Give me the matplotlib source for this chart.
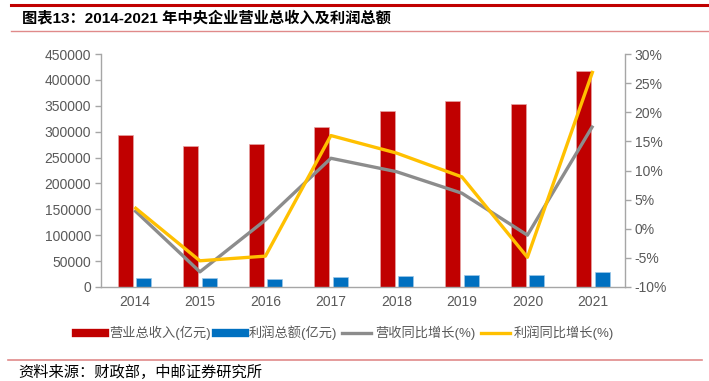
import numpy as np
import matplotlib
matplotlib.use('Agg')
from matplotlib import pyplot as plt
from matplotlib.lines import Line2D

plt.rcParams['font.family'] = ['Liberation Sans', 'Noto Sans CJK SC']

years = ['2014', '2015', '2016', '2017', '2018', '2019', '2020', '2021']
revenue = [293500, 272300, 276800, 308400, 339300, 359200, 354000, 417700]
profit = [18000, 16800, 16000, 18700, 21000, 23200, 22600, 29500]
revenue_yoy = [3.2, -7.4, 1.5, 12.1, 9.8, 6.1, -1.1, 17.7]
profit_yoy = [3.7, -5.5, -4.7, 16.0, 13.0, 8.9, -4.9, 27.1]

left_ticks = list(range(0, 450001, 50000))
right_ticks = list(range(-10, 31, 5))

tick_color = '#595959'
spine_color = '#A6A6A6'

fig = plt.figure(figsize=(7.09, 3.81), dpi=100)
ax = fig.add_axes([101/709, 1 - 287/381, (625 - 101)/709, (287 - 54)/381])
ax2 = ax.twinx()

x = np.arange(len(years))
w = 0.23
ax.bar(x - 0.14, revenue, w, color='#C00000', edgecolor='#E6A3A3', linewidth=0.5)
ax.bar(x + 0.145, profit, w, color='#0070C0', edgecolor='#9CC8E8', linewidth=0.5)

ax2.plot(x, revenue_yoy, color='#8C8C8C', linewidth=2.4, solid_capstyle='butt')
ax2.plot(x, profit_yoy, color='#FFC000', linewidth=2.4, solid_capstyle='butt')

ax.set_xlim(-0.51, 7.49)
ax.set_ylim(0, 450000)
ax.set_yticks(left_ticks)
ax.set_yticklabels([str(v) for v in left_ticks])
ax2.set_ylim(-10, 30)
ax2.set_yticks(right_ticks)
ax2.set_yticklabels([f'{v}%' for v in right_ticks])
ax.set_xticks(x)
ax.set_xticklabels(years)

for a in (ax, ax2):
    a.spines['top'].set_visible(False)
    for s in a.spines.values():
        s.set_color(spine_color)
        s.set_linewidth(1.0)
    a.tick_params(colors=tick_color, labelsize=10)
    a.tick_params(axis='y', color=spine_color, length=4, width=1)
ax.spines['right'].set_visible(False)
ax2.spines['left'].set_visible(False)
ax2.spines['bottom'].set_visible(False)
ax.tick_params(axis='x', length=0, pad=6)
ax.tick_params(axis='y', pad=3)
ax2.tick_params(axis='y', pad=3)

ax2.set_zorder(ax.get_zorder() + 1)
ax2.patch.set_visible(False)

handles = [Line2D([], [], color='#C00000', linewidth=6),
           Line2D([], [], color='#0070C0', linewidth=6),
           Line2D([], [], color='#8C8C8C', linewidth=2.4),
           Line2D([], [], color='#FFC000', linewidth=2.4)]
labels = ['营业总收入(亿元)', '利润总额(亿元)', '营收同比增长(%)', '利润同比增长(%)']
fig.legend(handles, labels, loc='center', bbox_to_anchor=(345/709, 1 - 333/381),
           ncol=4, frameon=False, fontsize=9.5, handlelength=2.2,
           handletextpad=0.3, columnspacing=0.4, labelcolor=tick_color)

# header and footer rules
fig.add_artist(Line2D([11/709, 1], [1 - 5/381, 1 - 5/381], color='#C00000', linewidth=2.2))
fig.add_artist(Line2D([11/709, 1], [1 - 31/381, 1 - 31/381], color='#E08A8A', linewidth=1.0))
fig.add_artist(Line2D([8/709, 702/709], [1 - 360/381, 1 - 360/381], color='#E08A8A', linewidth=1.2))

fig.text(22/709, 1 - 18/381, '图表13：2014-2021 年中央企业营业总收入及利润总额',
         fontsize=11, fontweight='bold', va='center', ha='left', color='black')
fig.text(18/709, 1 - 372/381, '资料来源：财政部，中邮证券研究所',
         fontsize=11, va='center', ha='left', color='black', fontweight='light')

fig.savefig('out.png', dpi=100)
